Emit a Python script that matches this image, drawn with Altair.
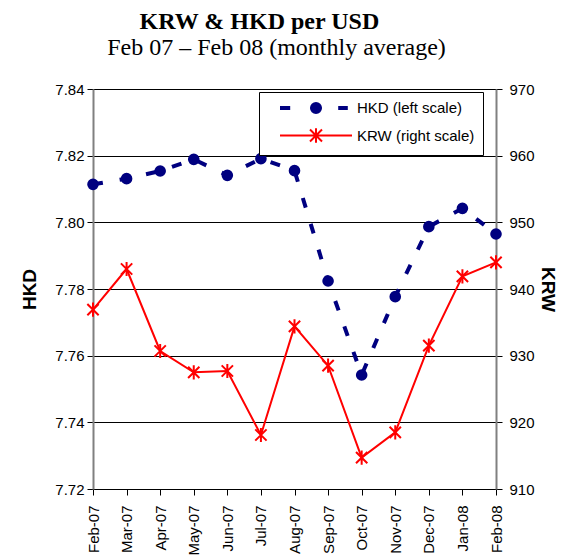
import altair as alt
import pandas as pd

months = ["Feb-07", "Mar-07", "Apr-07", "May-07", "Jun-07", "Jul-07", "Aug-07",
          "Sep-07", "Oct-07", "Nov-07", "Dec-07", "Jan-08", "Feb-08"]
hkd = [7.8114, 7.8131, 7.8154, 7.8189, 7.8141, 7.8191, 7.8155,
       7.7824, 7.7542, 7.7777, 7.7987, 7.8042, 7.7965]
krw = [936.9, 943.0, 930.7, 927.5, 927.7, 918.1, 934.4,
       928.5, 914.7, 918.5, 931.5, 941.9, 944.0]
series_names = ["HKD (left scale)", "KRW (right scale)"]
hkd_ticks = [7.72, 7.74, 7.76, 7.78, 7.80, 7.82, 7.84]
krw_ticks = [910, 920, 930, 940, 950, 960, 970]

NAVY = "#000080"
RED = "#FF0000"
FONT = "Liberation Sans"

df_hkd = pd.DataFrame({"month": months, "hkd": hkd, "series": series_names[0]})
df_krw = pd.DataFrame({"month": months, "krw": krw, "series": series_names[1]})

# legend symbol paths (line + marker), in unit coordinates
HKD_SYM = ("M-6,0H-4.3M3.7,0H5.3"
           "M0.67,0A0.67,0.67,0,1,1,-0.67,0A0.67,0.67,0,1,1,0.67,0Z")
KRW_SYM = "M-6,0H6M-1,-1L1,1M-1,1L1,-1M0,-1.2V1.2"
STAR = "M-0.8,-0.8L0.8,0.8M-0.8,0.8L0.8,-0.8M0,-1L0,1"

x_enc = alt.X("month:O", sort=months, scale=alt.Scale(padding=0),
              axis=alt.Axis(title=None, labelAngle=-90, labelFontSize=15, labelFont=FONT,
                            labelColor="#000", domainColor="#000", domainWidth=1,
                            tickColor="#000", tickSize=6, labelPadding=10, grid=False))

y_hkd = alt.Y("hkd:Q", scale=alt.Scale(domain=[7.72, 7.84], nice=False, zero=False),
              axis=alt.Axis(title="HKD", values=hkd_ticks, format=".2f", grid=True,
                            gridColor="#000", gridWidth=1, domainColor="#808080",
                            domainWidth=2, tickColor="#000", tickSize=6,
                            labelFontSize=15, labelFont=FONT, labelColor="#000", labelPadding=3,
                            titleFont=FONT, titleFontSize=19, titleFontWeight="bold",
                            titleColor="#000", titlePadding=15))

y_krw = alt.Y("krw:Q", scale=alt.Scale(domain=[910, 970], nice=False, zero=False),
              axis=alt.Axis(title="KRW", orient="right", values=krw_ticks, grid=False,
                            domainColor="#808080", domainWidth=2, tickColor="#000",
                            tickSize=6, labelFontSize=15, labelFont=FONT, labelColor="#000",
                            labelPadding=7, titleFont=FONT, titleFontSize=19,
                            titleFontWeight="bold", titleColor="#000", titlePadding=3))

hkd_line = alt.Chart(df_hkd).mark_line(color=NAVY, strokeWidth=4, strokeDash=[10, 17]).encode(
    x=x_enc, y=y_hkd)
hkd_pts = alt.Chart(df_hkd).mark_point(filled=True, shape="circle", size=135, color=NAVY,
                                       opacity=1).encode(x=x_enc, y=y_hkd)

legend_def = alt.Legend(title=None, orient="none", legendX=166, legendY=3,
                        symbolSize=144, symbolOffset=41, labelOffset=33,
                        padding=8, rowPadding=3, strokeColor="#000", fillColor="#fff",
                        cornerRadius=0, labelFont=FONT, labelFontSize=15, labelColor="#000",
                        symbolLimit=0)
legend_layer = alt.Chart(df_hkd).mark_point(filled=True, size=0, opacity=1).encode(
    x=x_enc, y=y_hkd,
    fill=alt.Fill("series:N", scale=alt.Scale(domain=series_names, range=[NAVY, RED]),
                  legend=legend_def),
    stroke=alt.Stroke("series:N", scale=alt.Scale(domain=series_names, range=[NAVY, RED]),
                      legend=legend_def),
    shape=alt.Shape("series:N", scale=alt.Scale(domain=series_names, range=[HKD_SYM, KRW_SYM]),
                    legend=legend_def),
    strokeWidth=alt.StrokeWidth("series:N", scale=alt.Scale(domain=series_names, range=[4, 2]),
                                legend=legend_def),
)

krw_line = alt.Chart(df_krw).mark_line(color=RED, strokeWidth=2).encode(x=x_enc, y=y_krw)
krw_pts = alt.Chart(df_krw).mark_point(shape=STAR, size=200, filled=False, stroke=RED,
                                       strokeWidth=2, opacity=1).encode(x=x_enc, y=y_krw)

left = alt.layer(hkd_line, hkd_pts, legend_layer)
right = alt.layer(krw_line, krw_pts)

inner = alt.layer(left, right).resolve_scale(y="independent").properties(
    width=403, height=400,
    title=alt.TitleParams(
        text="Feb 07 \u2013 Feb 08 (monthly average)",
        font="Liberation Serif", fontSize=24, fontWeight="normal", color="#000",
        anchor="middle", offset=22, dx=-18),
)

chart = alt.vconcat(inner).resolve_scale(
    fill="independent", stroke="independent", shape="independent", strokeWidth="independent"
).resolve_legend(
    fill="independent", stroke="independent", shape="independent", strokeWidth="independent"
).properties(
    padding={"left": 12, "top": 1, "right": 5, "bottom": 0},
    title=alt.TitleParams(
        text="KRW & HKD per USD",
        font="Liberation Serif", fontSize=24, fontWeight="bold", color="#000",
        anchor="middle", offset=2, dx=-29),
).configure_view(stroke=None).configure(background="#ffffff")

chart.save("out.html", embed_options={"renderer": "svg", "actions": False})
